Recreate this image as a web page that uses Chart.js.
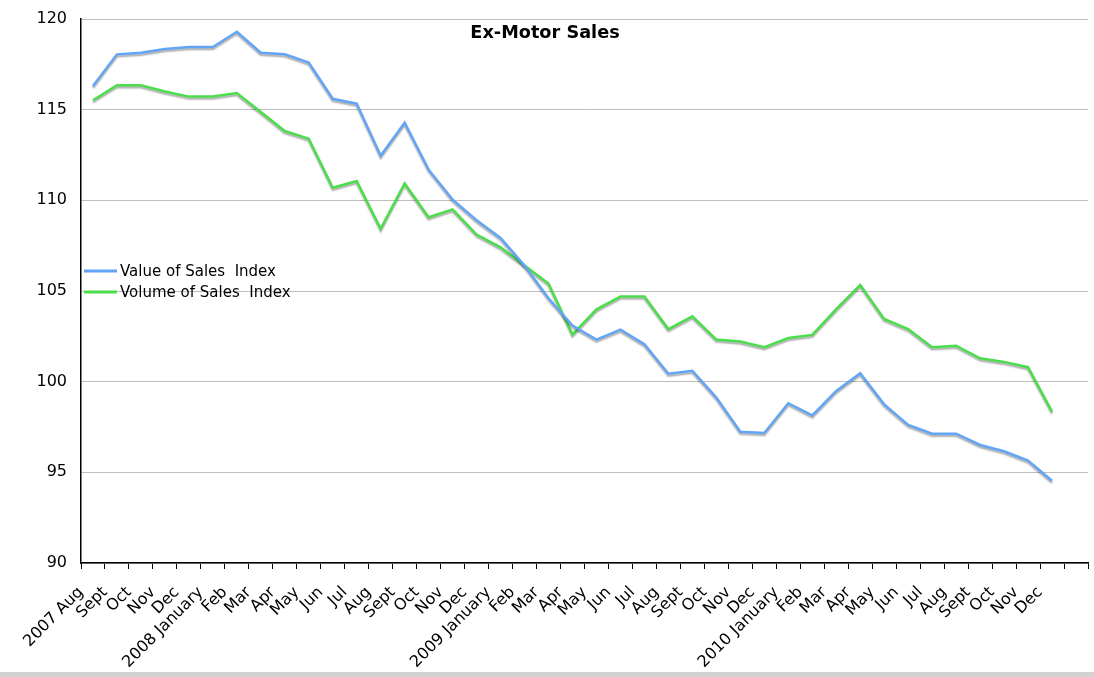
<!DOCTYPE html>
<html>
<head>
<meta charset="utf-8">
<title>Ex-Motor Sales</title>
<script src="https://cdn.jsdelivr.net/npm/chart.js@4.4.1/dist/chart.umd.min.js"></script>
<style>
  html, body { margin: 0; padding: 0; background: #d2d2d2; }
  #wrap { width: 1094px; height: 672px; background: #fff; position: relative; }
</style>
</head>
<body>
<div id="wrap"><canvas id="chart"></canvas></div>
<script>
// Datos
const monthLabels = [
  '2007 Aug', 'Sept', 'Oct', 'Nov', 'Dec',
  '2008 January', 'Feb', 'Mar', 'Apr', 'May', 'Jun', 'Jul', 'Aug', 'Sept', 'Oct', 'Nov', 'Dec',
  '2009 January', 'Feb', 'Mar', 'Apr', 'May', 'Jun', 'Jul', 'Aug', 'Sept', 'Oct', 'Nov', 'Dec',
  '2010 January', 'Feb', 'Mar', 'Apr', 'May', 'Jun', 'Jul', 'Aug', 'Sept', 'Oct', 'Nov', 'Dec'
];

const valueIndex = [
  116.3, 118.05, 118.14, 118.34, 118.45,
  118.45, 119.3, 118.14, 118.05, 117.6, 115.6, 115.33, 112.46, 114.28, 111.69, 110.04, 108.9,
  107.93, 106.4, 104.6, 103.1, 102.32, 102.87, 102.06, 100.44, 100.6, 99.12, 97.24, 97.17,
  98.81, 98.14, 99.49, 100.46, 98.75, 97.61, 97.13, 97.13, 96.51, 96.16, 95.65, 94.54
];

const volumeIndex = [
  115.52, 116.35, 116.35, 116.0, 115.72,
  115.72, 115.92, 114.87, 113.82, 113.4, 110.69, 111.07, 108.43, 110.93, 109.07, 109.5, 108.11,
  107.41, 106.4, 105.41, 102.6, 103.99, 104.69, 104.69, 102.9, 103.6, 102.32, 102.21, 101.9,
  102.41, 102.58, 104.0, 105.33, 103.46, 102.9, 101.9, 101.98, 101.29, 101.09, 100.8, 98.35
];

const seriesNames = ['Value of Sales  Index', 'Volume of Sales  Index'];
const yMin = 90, yMax = 120, yStep = 5;

// puntos centrados entre marcas de graduación (estilo Numbers/Excel)
const toPoints = arr => arr.map((v, i) => ({ x: i + 0.5, y: v }));

Chart.defaults.font.family = '"DejaVu Sans", Verdana, sans-serif';
Chart.defaults.color = '#000';

// sombra gris bajo las líneas
const shadowPlugin = {
  id: 'lineShadow',
  beforeDatasetDraw(chart) {
    const c = chart.ctx;
    c.save();
    c.shadowColor = 'rgba(0,0,0,0.32)';
    c.shadowOffsetX = 0;
    c.shadowOffsetY = 2;
    c.shadowBlur = 1.5;
  },
  afterDatasetDraw(chart) {
    chart.ctx.restore();
  }
};

// título y leyenda dentro del área del gráfico
const insidePlugin = {
  id: 'insideText',
  afterDraw(chart) {
    const ctx = chart.ctx;
    const area = chart.chartArea;
    ctx.save();
    ctx.fillStyle = '#000';
    ctx.textAlign = 'center';
    ctx.textBaseline = 'middle';
    ctx.font = 'bold 17.7px "DejaVu Sans", Verdana, sans-serif';
    ctx.fillText('Ex-Motor Sales', chart.width / 2 - 2, 33);

    ctx.textAlign = 'left';
    ctx.font = '15px "DejaVu Sans", Verdana, sans-serif';
    chart.data.datasets.forEach((ds, i) => {
      const y = 271 + i * 21;
      ctx.strokeStyle = ds.borderColor;
      ctx.lineWidth = 3;
      ctx.beginPath();
      ctx.moveTo(area.left + 3, y);
      ctx.lineTo(area.left + 36, y);
      ctx.stroke();
      ctx.fillStyle = '#000';
      ctx.fillText(ds.label, area.left + 39, y + 1);
    });
    ctx.restore();
  }
};

const ctx = document.getElementById('chart').getContext('2d');
const chart = new Chart(ctx, {
  type: 'line',
  data: {
    datasets: [
      {
        label: seriesNames[0],
        data: toPoints(valueIndex),
        borderColor: '#62a5f6',
        borderWidth: 2.5,
        pointRadius: 0,
        tension: 0
      },
      {
        label: seriesNames[1],
        data: toPoints(volumeIndex),
        borderColor: '#4ade4a',
        borderWidth: 2.5,
        pointRadius: 0,
        tension: 0
      }
    ]
  },
  options: {
    responsive: true,
    maintainAspectRatio: false,
    animation: false,
    layout: { padding: { top: 19, right: 6, left: 0, bottom: 0 } },
    scales: {
      x: {
        type: 'linear',
        min: 0,
        max: monthLabels.length + 1,
        border: { color: '#000', width: 1.5 },
        grid: { display: true, drawOnChartArea: false, drawTicks: true, tickLength: 6, color: '#000' },
        ticks: {
          stepSize: 1,
          autoSkip: false,
          maxRotation: 45,
          minRotation: 45,
          padding: 14,
          font: { size: 16 },
          callback: v => monthLabels[v] ?? ''
        },
        afterFit: s => { s.height = 109; s.paddingLeft = 0; s.paddingRight = 0; }
      },
      y: {
        min: yMin,
        max: yMax,
        border: { color: '#000', width: 1.5 },
        grid: { color: '#bdbdbd', drawTicks: false },
        ticks: { stepSize: yStep, padding: 14, font: { size: 16 } },
        afterFit: s => { s.width = 81; s.paddingTop = 0; s.paddingBottom = 0; }
      }
    },
    plugins: {
      legend: { display: false },
      tooltip: { enabled: false }
    }
  },
  plugins: [shadowPlugin, insidePlugin]
});
</script>
</body>
</html>
